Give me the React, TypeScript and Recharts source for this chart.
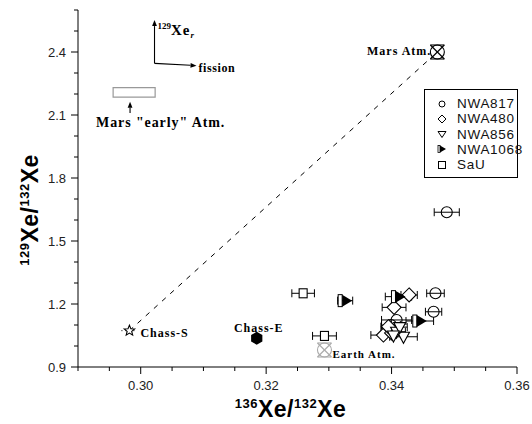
import React from "react";
import {
  ScatterChart,
  Scatter,
  XAxis,
  YAxis,
  ErrorBar,
  ReferenceLine,
  ReferenceArea,
  ReferenceDot,
} from "recharts";

// axis ticks (major ones get labels)
const xTicks = [0.29, 0.295, 0.3, 0.305, 0.31, 0.315, 0.32, 0.325, 0.33, 0.335, 0.34, 0.345, 0.35, 0.355, 0.36];
const xMajor = [0.3, 0.32, 0.34, 0.36];
const yTicks = [0.9, 1.0, 1.1, 1.2, 1.3, 1.4, 1.5, 1.6, 1.7, 1.8, 1.9, 2.0, 2.1, 2.2, 2.3, 2.4, 2.5, 2.6];
const yMajor = [0.9, 1.2, 1.5, 1.8, 2.1, 2.4];

// meteorite samples: 136/132, 129/132, 1-sigma on 136/132
const nwa817X = [0.3488, 0.347, 0.3467, 0.3408, 0.3399];
const nwa817Y = [1.637, 1.251, 1.163, 1.124, 1.1];
const nwa817Err = [0.002, 0.0014, 0.0013, 0.0024, 0.0015];

const nwa480X = [0.3428, 0.3404, 0.3387, 0.34, 0.3395];
const nwa480Y = [1.243, 1.184, 1.052, 1.062, 1.092];
const nwa480Err = [0.0013, 0.0019, 0.002, 0.0015, 0.0012];

const nwa856X = [0.3419, 0.3408, 0.3413, 0.3403];
const nwa856Y = [1.044, 1.068, 1.09, 1.05];
const nwa856Err = [0.0022, 0.0014, 0.0012, 0.0013];

const nwa1068X = [0.3326, 0.3411, 0.3445];
const nwa1068Y = [1.216, 1.235, 1.119];
const nwa1068Err = [0.0012, 0.0021, 0.0022];

const sauX = [0.3259, 0.3293];
const sauY = [1.251, 1.048];
const sauErr = [0.0018, 0.0019];

// reference reservoirs
const refNames = ["Mars Atm.", "Earth Atm.", "Chass-S", "Chass-E"];
const refX = [0.3473, 0.3293, 0.2982, 0.3185];
const refY = [2.4, 0.981, 1.073, 1.037];

// Mars "early" atmosphere box
const earlyBoxX = [0.2956, 0.3023];
const earlyBoxY = [2.185, 2.23];

// annotation arrows: 129Xe_r, fission, early-atm pointer
const arrowX1 = [0.3022, 0.3022, 0.2983];
const arrowY1 = [2.346, 2.346, 2.11];
const arrowX2 = [0.3022, 0.3089, 0.2983];
const arrowY2 = [2.552, 2.335, 2.163];

const legendNames = ["NWA817", "NWA480", "NWA856", "NWA1068", "SaU"];

const toRows = (xs: number[], ys: number[], es?: number[]) =>
  xs.map((x, i) => ({ x, y: ys[i], ex: es ? es[i] : 0 }));

const SANS = "'Liberation Sans', Arial, sans-serif";
const SERIF = "'Liberation Serif', 'Times New Roman', serif";

const isMajor = (v: number, list: number[]) => list.some((m) => Math.abs(m - v) < 1e-6);

const BottomTick = (p: any) => {
  const v = p.payload.value;
  const major = isMajor(v, xMajor);
  return (
    <g>
      <line x1={p.x} y1={p.y} x2={p.x} y2={p.y + (major ? 7 : 4)} stroke="#000" />
      {major ? (
        <text x={p.x} y={p.y + 23} textAnchor="middle" fontSize={13} fontFamily={SANS} fill="#222">
          {v.toFixed(2)}
        </text>
      ) : null}
    </g>
  );
};

const TopTick = (p: any) => {
  const major = isMajor(p.payload.value, xMajor);
  return <line x1={p.x} y1={p.y} x2={p.x} y2={p.y + (major ? 6 : 4)} stroke="#000" />;
};

const LeftTick = (p: any) => {
  const v = p.payload.value;
  const major = isMajor(v, yMajor);
  return (
    <g>
      <line x1={p.x} y1={p.y} x2={p.x - (major ? 7 : 4)} y2={p.y} stroke="#000" />
      {major ? (
        <text x={p.x - 12} y={p.y + 4.5} textAnchor="end" fontSize={13} fontFamily={SANS} fill="#222">
          {v.toFixed(1)}
        </text>
      ) : null}
    </g>
  );
};

const RightTick = (p: any) => {
  const major = isMajor(p.payload.value, yMajor);
  return <line x1={p.x} y1={p.y} x2={p.x - (major ? 6 : 4)} y2={p.y} stroke="#000" />;
};

// ---- marker shapes ----
const Circle = (p: any) => <circle cx={p.cx} cy={p.cy} r={5.5} fill="none" stroke="#000" strokeWidth={1.1} />;

const Diamond = (p: any) => (
  <polygon
    points={`${p.cx},${p.cy - 7} ${p.cx + 7},${p.cy} ${p.cx},${p.cy + 7} ${p.cx - 7},${p.cy}`}
    fill="#fff"
    stroke="#000"
    strokeWidth={1.1}
  />
);

const TriDown = (p: any) => (
  <polygon
    points={`${p.cx - 6},${p.cy - 4.5} ${p.cx + 6},${p.cy - 4.5} ${p.cx},${p.cy + 6.5}`}
    fill="#fff"
    stroke="#000"
    strokeWidth={1.1}
  />
);

const HalfRight = (p: any) => (
  <g>
    <rect x={p.cx - 7} y={p.cy - 6} width={4} height={12} fill="#fff" stroke="#000" strokeWidth={1} />
    <polygon points={`${p.cx - 3},${p.cy - 6} ${p.cx - 3},${p.cy + 6} ${p.cx + 7},${p.cy}`} fill="#000" />
  </g>
);

const Square = (p: any) => (
  <rect x={p.cx - 4} y={p.cy - 4.5} width={8} height={9} fill="#fff" stroke="#000" strokeWidth={1.1} />
);

const XCircle = (color: string, r: number) => (p: any) =>
  (
    <g stroke={color} strokeWidth={1.1} fill="#fff">
      <circle cx={p.cx} cy={p.cy} r={r} />
      <line x1={p.cx - r} y1={p.cy - r} x2={p.cx + r} y2={p.cy + r} />
      <line x1={p.cx + r} y1={p.cy - r} x2={p.cx - r} y2={p.cy + r} />
      <line x1={p.cx - r} y1={p.cy - r} x2={p.cx + r} y2={p.cy - r} />
      <line x1={p.cx - r} y1={p.cy + r} x2={p.cx + r} y2={p.cy + r} />
    </g>
  );

const Star = (p: any) => {
  const pts: string[] = [];
  for (let i = 0; i < 10; i++) {
    const a = -Math.PI / 2 + (i * Math.PI) / 5;
    const r = i % 2 === 0 ? 5.5 : 2.4;
    pts.push(`${p.cx + r * Math.cos(a)},${p.cy + r * Math.sin(a)}`);
  }
  return (
    <g>
      <line x1={p.cx - 8} y1={p.cy} x2={p.cx + 8} y2={p.cy} stroke="#000" strokeDasharray="1 3" />
      <polygon points={pts.join(" ")} fill="#fff" stroke="#000" strokeWidth={1.1} />
    </g>
  );
};

const Hexagon = (p: any) => {
  const pts: string[] = [];
  for (let i = 0; i < 6; i++) {
    const a = -Math.PI / 2 + (i * Math.PI) / 3;
    pts.push(`${p.cx + 6.5 * Math.cos(a)},${p.cy + 6.5 * Math.sin(a)}`);
  }
  return <polygon points={pts.join(" ")} fill="#000" />;
};

const refShapes = [XCircle("#000", 7), XCircle("#aaa", 7), Star, Hexagon];

// label text placement next to each reference point (pixel offsets)
const refLabelOffsets = [
  { dx: -6, dy: 3, anchor: "end", size: 12 },
  { dx: 8, dy: 8, anchor: "start", size: 11 },
  { dx: 11, dy: 6, anchor: "start", size: 12 },
  { dx: 2, dy: -6, anchor: "middle", size: 12 },
];

const Arrow = (p: any) => {
  const { x1, y1, x2, y2 } = p;
  const ang = Math.atan2(y2 - y1, x2 - x1);
  const L = 6;
  const W = 2.4;
  const bx = x2 - L * Math.cos(ang);
  const by = y2 - L * Math.sin(ang);
  const nx = -Math.sin(ang) * W;
  const ny = Math.cos(ang) * W;
  return (
    <g>
      <line x1={x1} y1={y1} x2={bx} y2={by} stroke="#000" strokeWidth={1.1} />
      <polygon points={`${x2},${y2} ${bx + nx},${by + ny} ${bx - nx},${by - ny}`} fill="#000" />
    </g>
  );
};

const LegendSymbol = ({ i }: { i: number }) => {
  const c = 6;
  if (i === 0) return <circle cx={c} cy={c} r={3} fill="none" stroke="#000" />;
  if (i === 1) return <polygon points={`6,2 10,6 6,10 2,6`} fill="none" stroke="#000" />;
  if (i === 2) return <polygon points={`2,3.5 10,3.5 6,9.5`} fill="none" stroke="#000" />;
  if (i === 3)
    return (
      <g>
        <rect x={2} y={2.5} width={2} height={7} fill="#fff" stroke="#000" strokeWidth={0.8} />
        <polygon points={`4,2.5 4,9.5 10,6`} fill="#000" />
      </g>
    );
  return <rect x={2.5} y={2.5} width={7} height={7} fill="none" stroke="#000" />;
};

export default function App() {
  const series = [
    { rows: toRows(nwa817X, nwa817Y, nwa817Err), shape: Circle },
    { rows: toRows(nwa480X, nwa480Y, nwa480Err), shape: Diamond },
    { rows: toRows(nwa856X, nwa856Y, nwa856Err), shape: TriDown },
    { rows: toRows(nwa1068X, nwa1068Y, nwa1068Err), shape: HalfRight },
    { rows: toRows(sauX, sauY, sauErr), shape: Square },
  ];

  return (
    <div style={{ position: "absolute", left: 0, top: 0, width: 532, height: 424, background: "#fff" }}>
      <ScatterChart width={532} height={424} margin={{ top: 10, right: 15, bottom: 0, left: 0 }}>
        <XAxis
          xAxisId={0}
          type="number"
          dataKey="x"
          domain={[0.29, 0.36]}
          ticks={xTicks}
          interval={0}
          height={57}
          tickSize={0}
          tickMargin={0}
          tick={<BottomTick />}
          axisLine={{ stroke: "#000" }}
          tickLine={false}
          label={{
            content: (lp: any) => {
              const vb = lp.viewBox;
              return (
                <text
                  x={vb.x + vb.width / 2 - 7}
                  y={vb.y + 50}
                  textAnchor="middle"
                  fontFamily={SANS}
                  fontWeight="bold"
                  fill="#000"
                  letterSpacing={0.5}
                >
                  <tspan fontSize={13} dy={-9}>136</tspan>
                  <tspan fontSize={23} dy={9}>Xe/</tspan>
                  <tspan fontSize={13} dy={-9}>132</tspan>
                  <tspan fontSize={23} dy={9}>Xe</tspan>
                </text>
              );
            },
          }}
        />
        <XAxis
          xAxisId="top"
          orientation="top"
          type="number"
          dataKey="x"
          domain={[0.29, 0.36]}
          ticks={xTicks}
          interval={0}
          height={0}
          tickSize={0}
          tickMargin={0}
          tick={<TopTick />}
          axisLine={{ stroke: "#000" }}
          tickLine={false}
        />
        <YAxis
          yAxisId={0}
          type="number"
          dataKey="y"
          domain={[0.9, 2.6]}
          ticks={yTicks}
          interval={0}
          width={78}
          tickSize={0}
          tickMargin={0}
          tick={<LeftTick />}
          axisLine={{ stroke: "#000" }}
          tickLine={false}
          label={{
            content: () => (
              <text
                transform="translate(38, 210) rotate(-90)"
                textAnchor="middle"
                fontFamily={SANS}
                fontWeight="bold"
                fill="#000"
                letterSpacing={0.5}
              >
                <tspan fontSize={13} dy={-9}>129</tspan>
                <tspan fontSize={23} dy={9}>Xe/</tspan>
                <tspan fontSize={13} dy={-9}>132</tspan>
                <tspan fontSize={23} dy={9}>Xe</tspan>
              </text>
            ),
          }}
        />
        <YAxis
          yAxisId="right"
          orientation="right"
          type="number"
          dataKey="y"
          domain={[0.9, 2.6]}
          ticks={yTicks}
          interval={0}
          width={0}
          tickSize={0}
          tickMargin={0}
          tick={<RightTick />}
          axisLine={{ stroke: "#000" }}
          tickLine={false}
        />

        {/* mixing line Chass-S -> Mars atmosphere */}
        <ReferenceLine
          segment={[
            { x: refX[2], y: refY[2] },
            { x: refX[0], y: refY[0] },
          ]}
          stroke="#000"
          strokeDasharray="5 6"
        />

        {/* Mars "early" atmosphere */}
        <ReferenceArea
          x1={earlyBoxX[0]}
          x2={earlyBoxX[1]}
          y1={earlyBoxY[0]}
          y2={earlyBoxY[1]}
          fill="#fff"
          fillOpacity={1}
          stroke="#999"
          strokeWidth={1.2}
        />

        {arrowX1.map((x, i) => (
          <ReferenceLine
            key={`arr${i}`}
            segment={[
              { x, y: arrowY1[i] },
              { x: arrowX2[i], y: arrowY2[i] },
            ]}
            shape={(p: any) => <Arrow {...p} />}
          />
        ))}

        {/* annotation texts */}
        <ReferenceDot
          x={arrowX2[0]}
          y={arrowY2[0]}
          r={0}
          shape={(p: any) => (
            <text x={p.cx + 3} y={p.cy + 15} fontFamily={SERIF} fontWeight="bold" fill="#000">
              <tspan fontSize={9} dy={-6}>129</tspan>
              <tspan fontSize={15} dy={6} letterSpacing={1}>Xe</tspan>
              <tspan fontSize={9} dy={3} fontStyle="italic">r</tspan>
            </text>
          )}
        />
        <ReferenceDot
          x={arrowX2[1]}
          y={arrowY2[1]}
          r={0}
          shape={(p: any) => (
            <text x={p.cx + 2} y={p.cy + 6} fontFamily={SERIF} fontWeight="bold" fontSize={12} letterSpacing={0.6} fill="#000">
              fission
            </text>
          )}
        />
        <ReferenceDot
          x={arrowX1[2]}
          y={arrowY1[2]}
          r={0}
          shape={(p: any) => (
            <text x={p.cx - 34} y={p.cy + 14} fontFamily={SERIF} fontWeight="bold" fontSize={14} letterSpacing={0.9} fill="#000">
              Mars "early" Atm.
            </text>
          )}
        />

        {series.map((s, i) => (
          <Scatter
            key={legendNames[i]}
            name={legendNames[i]}
            data={s.rows}
            shape={s.shape}
            isAnimationActive={false}
          >
            <ErrorBar dataKey="ex" direction="x" width={4} stroke="#000" strokeWidth={1} />
          </Scatter>
        ))}

        {refNames.map((n, i) => (
          <Scatter
            key={n}
            name={n}
            data={[{ x: refX[i], y: refY[i] }]}
            shape={refShapes[i]}
            isAnimationActive={false}
          />
        ))}
        {refNames.map((n, i) => (
          <ReferenceDot
            key={`lbl${n}`}
            x={refX[i]}
            y={refY[i]}
            r={0}
            shape={(p: any) => (
              <text
                x={p.cx + refLabelOffsets[i].dx}
                y={p.cy + refLabelOffsets[i].dy}
                textAnchor={refLabelOffsets[i].anchor as any}
                fontFamily={SERIF}
                fontWeight="bold"
                fontSize={refLabelOffsets[i].size}
                letterSpacing={1}
                fill="#000"
              >
                {n}
              </text>
            )}
          />
        ))}
      </ScatterChart>

      <div
        style={{
          position: "absolute",
          left: 424,
          top: 89,
          width: 94,
          height: 89,
          boxSizing: "border-box",
          border: "1px solid #000",
          background: "#fff",
        }}
      >
        {legendNames.map((n, i) => (
          <div
            key={n}
            style={{ position: "absolute", left: 11, top: 6 + i * 15.3, height: 15, display: "flex", alignItems: "center" }}
          >
            <svg width={12} height={12}>
              <LegendSymbol i={i} />
            </svg>
            <span
              style={{ marginLeft: 9, fontFamily: SANS, fontSize: 13.5, letterSpacing: 0.7, color: "#111", lineHeight: "15px" }}
            >
              {n}
            </span>
          </div>
        ))}
      </div>
    </div>
  );
}
